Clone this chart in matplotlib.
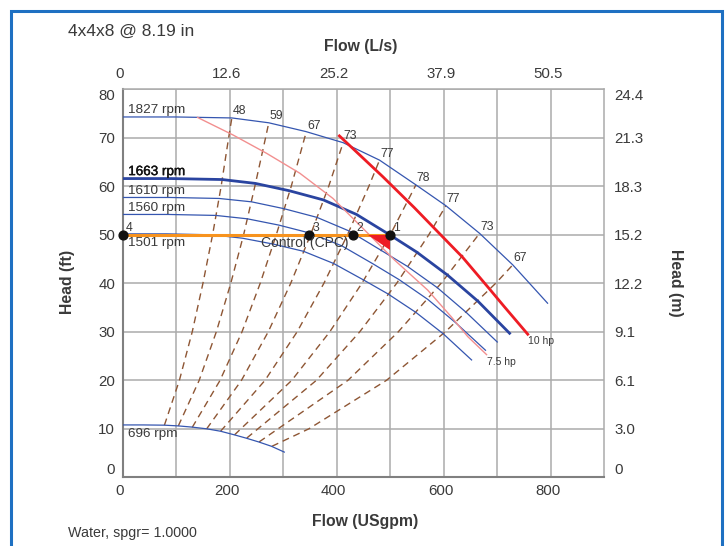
import matplotlib
matplotlib.use("Agg")
import matplotlib.pyplot as plt
import matplotlib.patheffects as pe
from matplotlib.lines import Line2D
from matplotlib.transforms import ScaledTranslation

plt.rcParams['font.family'] = ['Liberation Sans', 'DejaVu Sans']

# ---------------- data ----------------
gpm_ticks = [0, 200, 400, 600, 800]
lps_labels = ['0', '12.6', '25.2', '37.9', '50.5']
ft_ticks = [0, 10, 20, 30, 40, 50, 60, 70, 80]
m_labels = ['0', '3.0', '6.1', '9.1', '12.2', '15.2', '18.3', '21.3', '24.4']

# pump curves: flow (USgpm), head (ft)
q_1827 = [0, 100, 204, 273, 342, 412, 480, 548, 604, 667, 729, 794]
h_1827 = [74.3, 74.3, 74.1, 73.1, 71.3, 69.0, 65.4, 60.3, 56.0, 50.3, 43.8, 35.9]
q_1663 = [0, 91, 186, 248, 311, 375, 437, 499, 550, 607, 664, 723]
h_1663 = [61.6, 61.6, 61.4, 60.6, 59.1, 57.2, 54.2, 50.0, 46.4, 41.7, 36.3, 29.7]
q_1610 = [0, 88, 180, 241, 301, 363, 423, 483, 532, 588, 642, 700]
h_1610 = [57.7, 57.7, 57.5, 56.8, 55.4, 53.6, 50.8, 46.8, 43.5, 39.1, 34.0, 27.9]
q_1560 = [0, 85, 174, 233, 292, 352, 410, 468, 516, 570, 622, 678]
h_1560 = [54.2, 54.2, 54.0, 53.3, 52.0, 50.3, 47.7, 44.0, 40.8, 36.7, 31.9, 26.2]
q_1501 = [0, 82, 168, 224, 281, 338, 394, 450, 496, 548, 599, 652]
h_1501 = [50.2, 50.2, 50.0, 49.3, 48.1, 46.6, 44.1, 40.7, 37.8, 34.0, 29.6, 24.2]
q_696 = [0, 38, 78, 104, 130, 157, 183, 209, 230, 254, 278, 302]
h_696 = [10.8, 10.8, 10.75, 10.6, 10.35, 10.0, 9.5, 8.75, 8.1, 7.3, 6.4, 5.2]

rpm_names = ['1827 rpm', '1663 rpm', '1610 rpm', '1560 rpm', '1501 rpm', '696 rpm']

# iso-efficiency lines (%), flow and head points
eff_labels = ['48', '59', '67', '73', '77', '78', '77', '73', '67']
eff_q = [
    [78, 106, 130, 150, 168, 184, 198, 204],
    [104, 143, 175, 202, 226, 247, 267, 273],
    [130, 182, 223, 257, 287, 315, 343],
    [157, 222, 272, 314, 351, 385, 412],
    [183, 266, 326, 376, 420, 460, 480],
    [209, 316, 387, 447, 500, 548],
    [232, 362, 443, 512, 572, 604],
    [255, 421, 515, 595, 667],
    [279, 348, 493, 603, 697, 729],
]
eff_h = [
    [10.75, 20, 30, 40, 50, 60, 70, 74.1],
    [10.6, 20, 30, 40, 50, 60, 70, 73.1],
    [10.3, 20, 30, 40, 50, 60, 71.2],
    [10.0, 20, 30, 40, 50, 60, 69.0],
    [9.5, 20, 30, 40, 50, 60, 65.4],
    [8.75, 20, 30, 40, 50, 60.3],
    [8.1, 20, 30, 40, 50, 56.0],
    [7.3, 20, 30, 40, 50.3],
    [6.4, 10, 20, 30, 40, 43.8],
]

# power limit lines
q_10hp = [405, 486, 545, 604, 635, 685, 713, 757]
h_10hp = [70.4, 62.0, 55.6, 48.9, 45.4, 38.9, 35.2, 29.5]
q_75hp = [140, 206, 269, 331, 393, 461, 508, 570, 614, 645, 680]
h_75hp = [74.2, 70.6, 66.8, 62.7, 57.5, 50.0, 44.8, 38.6, 33.1, 29.0, 25.3]

# control (CPC) line and operating points
control_head = 50
op_q = [0, 349, 430, 499]
op_labels = ['4', '3', '2', '1']
tri_q = [459, 499, 499]
tri_h = [50.0, 50.0, 46.9]

# ---------------- styles ----------------
TXT = '#3a3a3a'
BLUE = '#3556b0'
BLUE_DK = '#2a44a0'
RED = '#ee1c24'
PINK = '#f28f8f'
BROWN = '#8e5634'
ORANGE = '#f7931e'
GRID = '#ababab'

fig = plt.figure(figsize=(7.25, 5.46), dpi=100)
ax = fig.add_axes([0.1692, 0.1258, 0.6643, 0.7106])
ax.set_xlim(0, 900)
ax.set_ylim(0, 80)

# grid
ax.set_xticks(gpm_ticks)
ax.set_xticks(range(100, 900, 200), minor=True)
ax.set_yticks(ft_ticks)
ax.grid(True, which='both', color=GRID, lw=1.1)
ax.set_axisbelow(True)
ax.tick_params(axis='both', which='both', length=0, labelsize=10.8, colors=TXT)
ax.tick_params(axis='x', pad=5)
ax.tick_params(axis='y', pad=5.5)
for s in ['left', 'bottom']:
    ax.spines[s].set_color('#808080')
    ax.spines[s].set_linewidth(1.5)
for s in ['top', 'right']:
    ax.spines[s].set_color(GRID)
    ax.spines[s].set_linewidth(1.1)

shift = ScaledTranslation(-3 / 100, 0, fig.dpi_scale_trans)
for lab in ax.get_xticklabels():
    lab.set_transform(lab.get_transform() + shift)
ylabs = ax.get_yticklabels()
ylabs[-1].set_va('top')
ylabs[0].set_va('bottom')

# top axis (L/s)
axt = ax.twiny()
axt.set_xlim(ax.get_xlim())
axt.set_xticks(gpm_ticks)
axt.set_xticklabels(lps_labels)
axt.tick_params(axis='x', length=0, labelsize=10.8, colors=TXT, pad=6)
for lab in axt.get_xticklabels():
    lab.set_transform(lab.get_transform() + shift)
for s in axt.spines.values():
    s.set_visible(False)

# right axis (m)
axr = ax.twinx()
axr.set_ylim(ax.get_ylim())
axr.set_yticks(ft_ticks)
axr.set_yticklabels(m_labels)
axr.tick_params(axis='y', length=0, labelsize=10.8, colors=TXT, pad=7)
rl = axr.get_yticklabels()
rl[-1].set_va('top')
rl[0].set_va('bottom')
for s in axr.spines.values():
    s.set_visible(False)

# iso-efficiency dashed lines
for q, h, lab in zip(eff_q, eff_h, eff_labels):
    ax.plot(q, h, color=BROWN, lw=1.0, dashes=(5, 3.5), zorder=2)
    ax.annotate(lab, (q[-1], h[-1]), xytext=(0.5, 2.5), textcoords='offset points',
                ha='left', va='baseline', fontsize=8.8, color=TXT, zorder=6)

# pump curves
curves = [(q_1827, h_1827, 0.9, BLUE), (q_1663, h_1663, 2.0, BLUE_DK),
          (q_1610, h_1610, 0.9, BLUE), (q_1560, h_1560, 0.9, BLUE),
          (q_1501, h_1501, 0.9, BLUE), (q_696, h_696, 0.9, BLUE)]
for (q, h, lw, c), name in zip(curves, rpm_names):
    ax.plot(q, h, color=c, lw=lw, zorder=3)
for (q, h, lw, c), name in zip(curves, rpm_names):
    below = name in ('1501 rpm', '696 rpm')
    kw = {}
    if name == '1663 rpm':
        kw['path_effects'] = [pe.withStroke(linewidth=0.3, foreground='#111111')]
    ax.annotate(name, (q[0], h[0]), xytext=(4, -2.5 if below else 2.5),
                textcoords='offset points', ha='left',
                va='top' if below else 'baseline', fontsize=9.7,
                color='#111111' if name == '1663 rpm' else TXT, zorder=6, **kw)

# power lines
ax.plot(q_75hp, h_75hp, color=PINK, lw=1.0, zorder=3)
ax.plot(q_10hp, h_10hp, color=RED, lw=2.0, zorder=4)
ax.annotate('10 hp', (q_10hp[-1], h_10hp[-1]), xytext=(0, -1.5), textcoords='offset points',
            ha='left', va='top', fontsize=7.5, color=TXT)
ax.annotate('7.5 hp', (q_75hp[-1], h_75hp[-1]), xytext=(0, -1.5), textcoords='offset points',
            ha='left', va='top', fontsize=7.5, color=TXT)

# control line
ax.plot([0, op_q[-1]], [control_head, control_head], color=ORANGE, lw=2.2, zorder=5,
        solid_capstyle='butt')
ax.fill(tri_q, tri_h, color=RED, lw=0, zorder=6)
ax.scatter(op_q, [control_head] * len(op_q), s=40, color='#111111', zorder=7, clip_on=False)
for q, lab in zip(op_q, op_labels):
    ax.annotate(lab, (q, control_head), xytext=(2.5, 0.8), textcoords='offset points',
                ha='left', va='bottom', fontsize=8.8, color=TXT, zorder=8)
ax.text(341, 48.4, 'Control (CPC)', ha='center', va='center', fontsize=10, color=TXT, zorder=8)

# labels
fig.text(68.3 / 725, 1 - 35.7 / 546, '4x4x8 @ 8.19 in', fontsize=12.5, color=TXT,
         ha='left', va='baseline')
fig.text(361 / 725, 1 - 50.7 / 546, 'Flow (L/s)', fontsize=11.3, fontweight='bold',
         color=TXT, ha='center', va='baseline')
fig.text(365 / 725, 1 - 526 / 546, 'Flow (USgpm)', fontsize=11.3, fontweight='bold',
         color=TXT, ha='center', va='baseline')
fig.text(67.5 / 725, 1 - 282 / 546, 'Head (ft)', fontsize=11.3, fontweight='bold',
         color=TXT, ha='center', va='center', rotation=90)
fig.text(675 / 725, 1 - 283 / 546, 'Head (m)', fontsize=11.3, fontweight='bold',
         color=TXT, ha='center', va='center', rotation=270)
fig.text(68.3 / 725, 1 - 536.7 / 546, 'Water, spgr= 1.0000', fontsize=10.3, color=TXT,
         ha='left', va='baseline')

# blue frame
x0, x1, yt = 11.2 / 725, 722.2 / 725, 1 - 10.5 / 546
fig.add_artist(Line2D([x0, x0, x1, x1], [-0.05, yt, yt, -0.05], transform=fig.transFigure,
                      color='#1e70c2', lw=2.2, solid_joinstyle='miter'))

fig.savefig('out.png', dpi=100)
